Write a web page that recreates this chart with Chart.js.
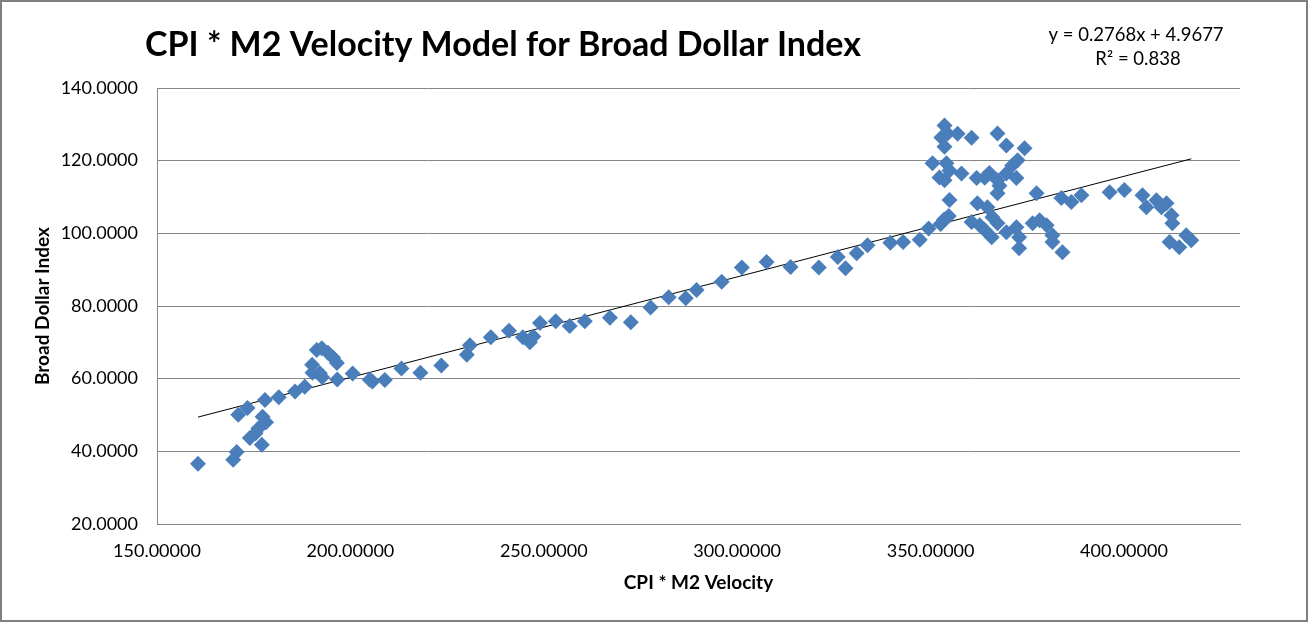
<!DOCTYPE html>
<html>
<head>
<meta charset="utf-8">
<script src="https://cdn.jsdelivr.net/npm/chart.js@4/dist/chart.umd.min.js"></script>
<style>
  html, body { margin: 0; padding: 0; background: #fff; }
  #wrap { width: 1308px; height: 622px; position: relative; }
</style>
</head>
<body>
<div id="wrap"><canvas id="velocityChart"></canvas></div>
<script>
// CPI * M2 velocity (x) vs broad dollar index (y)
var cpiM2Velocity = [
  160.6, 169.7, 170.6, 171.0, 173.4, 174.0, 175.5, 176.2, 177.1, 177.3,
  178.2, 177.9, 181.5, 185.7, 188.2, 190.2, 190.1, 191.3, 192.6, 192.1,
  192.7, 194.2, 195.5, 196.5, 196.6, 200.6, 205.0, 205.7, 208.9, 213.2,
  218.1, 223.5, 230.1, 230.9, 236.3, 241.0, 244.6, 246.4, 247.3, 249.0,
  253.1, 256.7, 260.6, 267.1, 272.5, 277.6, 282.3, 286.7, 289.5, 296.0,
  301.2, 307.6, 313.8, 321.1, 326.0, 328.0, 330.9, 333.7, 339.6, 342.9,
  347.2, 349.5, 352.6, 353.5, 354.7, 354.9, 350.5, 352.3, 353.6, 354.1,
  354.9, 353.6, 352.8, 353.6, 354.4, 357.0, 360.6, 358.0, 361.9, 364.0,
  365.2, 367.3, 367.8, 367.3, 369.6, 371.1, 372.5, 372.2, 374.3, 367.3,
  369.6, 362.1, 364.7, 360.6, 362.7, 364.0, 366.0, 367.3, 365.8, 369.6,
  372.2, 372.9, 372.9, 376.4, 377.4, 378.2, 380.0, 381.5, 381.5, 384.1,
  383.8, 386.4, 389.0, 396.3, 400.1, 404.8, 405.8, 408.4, 409.7, 411.0,
  412.3, 412.5, 411.8, 414.3, 416.1, 417.4
];
var broadDollarIndex = [
  36.6, 37.7, 39.8, 50.1, 51.9, 43.7, 45.0, 46.3, 41.8, 49.5,
  48.0, 54.1, 54.9, 56.5, 57.8, 61.6, 63.8, 67.9, 68.4, 61.5,
  60.4, 67.1, 65.8, 64.3, 59.8, 61.4, 59.7, 59.2, 59.6, 62.8,
  61.6, 63.6, 66.6, 69.2, 71.4, 73.2, 71.4, 70.0, 71.6, 75.3,
  75.8, 74.5, 75.8, 76.8, 75.5, 79.6, 82.4, 82.1, 84.4, 86.7,
  90.6, 92.1, 90.7, 90.6, 93.5, 90.4, 94.5, 96.7, 97.4, 97.6,
  98.2, 101.3, 102.6, 103.8, 104.8, 109.2, 119.3, 115.4, 114.6, 119.3,
  117.3, 123.8, 126.4, 129.7, 127.5, 127.4, 126.3, 116.5, 115.2, 115.3,
  116.6, 114.6, 113.1, 111.0, 116.5, 118.7, 120.1, 115.2, 123.4, 127.5,
  124.2, 108.3, 107.2, 103.1, 102.2, 100.9, 104.4, 102.8, 98.9, 100.3,
  101.7, 98.9, 95.9, 102.8, 111.0, 103.6, 102.2, 99.5, 97.6, 94.8,
  109.7, 108.6, 110.5, 111.3, 111.9, 110.5, 107.2, 109.1, 107.2, 108.3,
  105.0, 102.8, 97.6, 96.2, 99.5, 98.1
];
var xTickLabels = [150, 200, 250, 300, 350, 400];
var yTickLabels = [20, 40, 60, 80, 100, 120, 140];

// linear trendline as printed on the chart
var slope = 0.2768, intercept = 4.9677, rSquared = '0.838';

var points = cpiM2Velocity.map(function (x, i) { return { x: x, y: broadDollarIndex[i] } })
var xMin = Math.min.apply(null, cpiM2Velocity)
var xMax = Math.max.apply(null, cpiM2Velocity)
var trend = [
  { x: xMin, y: slope * xMin + intercept },
  { x: xMax, y: slope * xMax + intercept }
]

var fontFam = 'Lato, "Open Sans", sans-serif'

var decor = {
  id: 'decor',
  afterDraw: function (chart) {
    var ctx = chart.ctx
    ctx.save()
    ctx.fillStyle = '#000'
    ctx.textBaseline = 'middle'
    ctx.font = 'bold 34px ' + fontFam
    ctx.textAlign = 'left'
    ctx.fillText('CPI * M2 Velocity Model for Broad Dollar Index', 145, 45)
    ctx.font = '18.5px ' + fontFam
    ctx.textAlign = 'center'
    ctx.fillText('y = ' + slope + 'x + ' + intercept, 1136, 35)
    ctx.fillText('R\u00b2 = ' + rSquared, 1138, 59)
    ctx.strokeStyle = '#7f7f7f'
    ctx.lineWidth = 2
    ctx.strokeRect(1, 1, chart.width - 2, chart.height - 2)
    ctx.restore()
  }
}

new Chart(document.getElementById('velocityChart').getContext('2d'), {
  type: 'scatter',
  data: {
    datasets: [
      {
        label: 'Broad Dollar Index',
        data: points,
        pointStyle: 'rectRot',
        pointRadius: 8,
        pointHoverRadius: 8,
        backgroundColor: '#4a7ebb',
        borderColor: '#4a7ebb',
        borderWidth: 0
      },
      {
        label: 'Linear trend',
        type: 'line',
        data: trend,
        borderColor: '#000',
        borderWidth: 1,
        pointRadius: 0,
        fill: false
      }
    ]
  },
  options: {
    responsive: true,
    maintainAspectRatio: false,
    animation: false,
    layout: { padding: { top: 88, right: 68, left: 0, bottom: 0 } },
    plugins: { legend: { display: false }, tooltip: { enabled: false } },
    scales: {
      x: {
        type: 'linear',
        min: 150,
        max: 430,
        afterFit: function (s) { s.height = 98 },
        afterBuildTicks: function (s) {
          s.ticks = xTickLabels.map(function (v) { return { value: v } })
        },
        grid: { display: false, drawTicks: false },
        border: { display: true, color: '#868686', width: 1 },
        ticks: {
          padding: 16,
          color: '#000',
          font: { family: fontFam, size: 18 },
          maxRotation: 0,
          callback: function (v) { return Number(v).toFixed(5) }
        },
        title: {
          display: true,
          text: 'CPI * M2 Velocity',
          color: '#000',
          font: { family: fontFam, size: 19, weight: 'bold' },
          padding: { top: 0, bottom: 28 }
        }
      },
      y: {
        min: 20,
        max: 140,
        afterFit: function (s) { s.width = 157 },
        afterBuildTicks: function (s) {
          s.ticks = yTickLabels.map(function (v) { return { value: v } })
        },
        grid: { color: '#868686', drawTicks: false },
        border: { display: true, color: '#868686', width: 1 },
        ticks: {
          padding: 19,
          color: '#000',
          font: { family: fontFam, size: 18 },
          callback: function (v) { return Number(v).toFixed(4) }
        },
        title: {
          display: true,
          text: 'Broad Dollar Index',
          color: '#000',
          font: { family: fontFam, size: 19, weight: 'bold' },
          padding: { top: 31, bottom: 0 }
        }
      }
    }
  },
  plugins: [decor]
})
</script>
</body>
</html>
